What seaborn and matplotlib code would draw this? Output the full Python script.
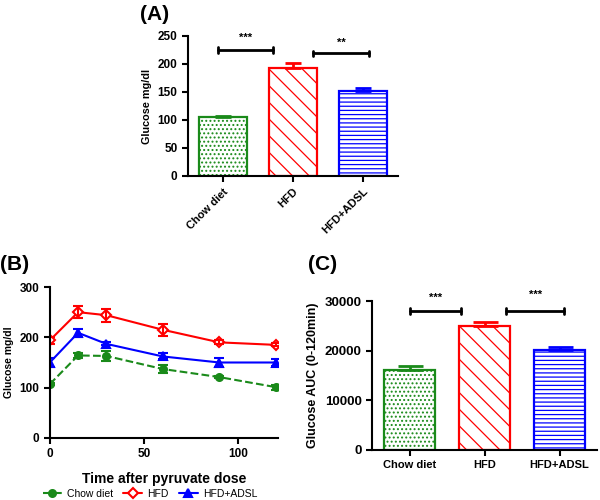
import numpy as np
import pandas as pd
import seaborn as sns
import matplotlib
matplotlib.use("Agg")
import matplotlib.pyplot as plt

# data
groups = ["Chow diet", "HFD", "HFD+ADSL"]
colors = ["#1a8a1a", "#ff0000", "#0000ff"]
hatches = ["....", "\\\\", "----"]

fasting_mean = [106, 193, 152]
fasting_sem = [2, 9, 5]

time_min = [0, 15, 30, 60, 90, 120]
chow_ptt = [107, 164, 163, 137, 121, 101]
chow_err = [2, 5, 10, 8, 2, 5]
hfd_ptt = [194, 250, 244, 215, 190, 185]
hfd_err = [7, 12, 13, 12, 4, 3]
adsl_ptt = [150, 209, 187, 162, 150, 150]
adsl_err = [8, 8, 3, 6, 8, 6]

auc_mean = [16100, 25000, 20100]
auc_sem = [800, 850, 600]

sns.set_style("ticks")
plt.rcParams["font.family"] = ["Liberation Sans", "DejaVu Sans"]
plt.rcParams["hatch.linewidth"] = 0.9
for k in ["text.color", "axes.labelcolor", "xtick.color", "ytick.color",
          "axes.edgecolor"]:
    plt.rcParams[k] = "black"

fig = plt.figure(figsize=(6, 5), dpi=100)
axA = fig.add_axes([0.313, 0.648, 0.35, 0.28])
axB = fig.add_axes([0.083, 0.124, 0.38, 0.302])
axC = fig.add_axes([0.62, 0.10, 0.375, 0.298])


def bar_panel(ax, means, sems, cap):
    df = pd.DataFrame({"group": groups, "value": means})
    sns.barplot(data=df, x="group", y="value", ax=ax, width=0.68,
                errorbar=None, color="white")
    for patch, c, h in zip(ax.patches, colors, hatches):
        patch.set_facecolor("white")
        patch.set_edgecolor(c)
        patch.set_hatch(h)
        patch.set_linewidth(1.6)
    for i, (m, s) in enumerate(zip(means, sems)):
        ax.errorbar(i, m, yerr=[[0], [s]], color=colors[i], capsize=cap,
                    capthick=2, elinewidth=2)
    ax.set_xlim(-0.5, 2.5)
    ax.set_xlabel("")


def style(ax, size):
    sns.despine(ax=ax)
    for sp in ["left", "bottom"]:
        ax.spines[sp].set_linewidth(1.5)
    ax.tick_params(width=1.5, length=4, labelsize=size)
    for lab in ax.get_xticklabels() + ax.get_yticklabels():
        lab.set_fontweight("bold")


def sig(ax, x0, x1, y, ytxt, txt, h):
    ax.plot([x0, x1], [y, y], color="black", lw=2, clip_on=False)
    ax.plot([x0, x0], [y - h, y + h], color="black", lw=2, clip_on=False)
    ax.plot([x1, x1], [y - h, y + h], color="black", lw=2, clip_on=False)
    ax.text((x0 + x1) / 2, ytxt, txt, ha="center", va="center",
            fontsize=8, fontweight="bold")


# (A)
bar_panel(axA, fasting_mean, fasting_sem, 5.5)
axA.set_ylim(0, 250)
axA.set_yticks([0, 50, 100, 150, 200, 250])
axA.set_ylabel("Glucose mg/dl", fontsize=7.8, fontweight="bold")
style(axA, 8.5)
axA.set_xticks(range(3))
axA.set_xticklabels(groups, rotation=45, ha="right", rotation_mode="anchor",
                    fontweight="bold", fontsize=8)
sig(axA, -0.07, 0.71, 225, 246, "***", 5)
sig(axA, 1.29, 2.09, 219, 237, "**", 5)

# (B)
series = [(chow_ptt, chow_err, "o", "--", True, 5),
          (hfd_ptt, hfd_err, "D", "-", False, 5.5),
          (adsl_ptt, adsl_err, "^", "-", True, 6)]
for (vals, errs, mk, ls, filled, ms), c, name in zip(series, colors, groups):
    sns.lineplot(x=time_min, y=vals, ax=axB, color=c, linestyle=ls,
                 marker=mk, markersize=ms,
                 markerfacecolor=c if filled else "white",
                 markeredgecolor=c, markeredgewidth=1.5, lw=1.5, label=name)
    axB.errorbar(time_min, vals, yerr=errs, fmt="none", ecolor=c,
                 capsize=3.5, capthick=1.5, elinewidth=1.5)
axB.set_xlim(0, 121)
axB.set_ylim(0, 300)
axB.set_yticks([0, 100, 200, 300])
axB.set_xticks([0, 50, 100])
axB.set_ylabel("Glucose mg/dl", fontsize=7.5, fontweight="bold")
axB.set_xlabel("Time after pyruvate dose", fontsize=10, fontweight="bold",
               labelpad=8)
style(axB, 8.5)
axB.legend(loc="center", bbox_to_anchor=(0.44, -0.37), ncol=3,
           frameon=False, fontsize=7.5, handlelength=1.8, columnspacing=1.0,
           handletextpad=0.5, borderpad=0.1)

# (C)
bar_panel(axC, auc_mean, auc_sem, 9)
axC.set_ylim(0, 30000)
axC.set_yticks([0, 10000, 20000, 30000])
axC.set_ylabel("Glucose AUC (0-120min)", fontsize=9, fontweight="bold")
style(axC, 9.5)
axC.set_xticks(range(3))
axC.set_xticklabels(groups, fontweight="bold", fontsize=8)
sig(axC, 0.0, 0.69, 28000, 30600, "***", 600)
sig(axC, 1.29, 2.06, 28000, 31300, "***", 600)

fig.text(0.233, 0.97, "(A)", fontsize=15, fontweight="bold", va="center")
fig.text(0.0, 0.47, "(B)", fontsize=15, fontweight="bold", va="center")
fig.text(0.513, 0.47, "(C)", fontsize=15, fontweight="bold", va="center")

fig.savefig("out.png", dpi=100)
